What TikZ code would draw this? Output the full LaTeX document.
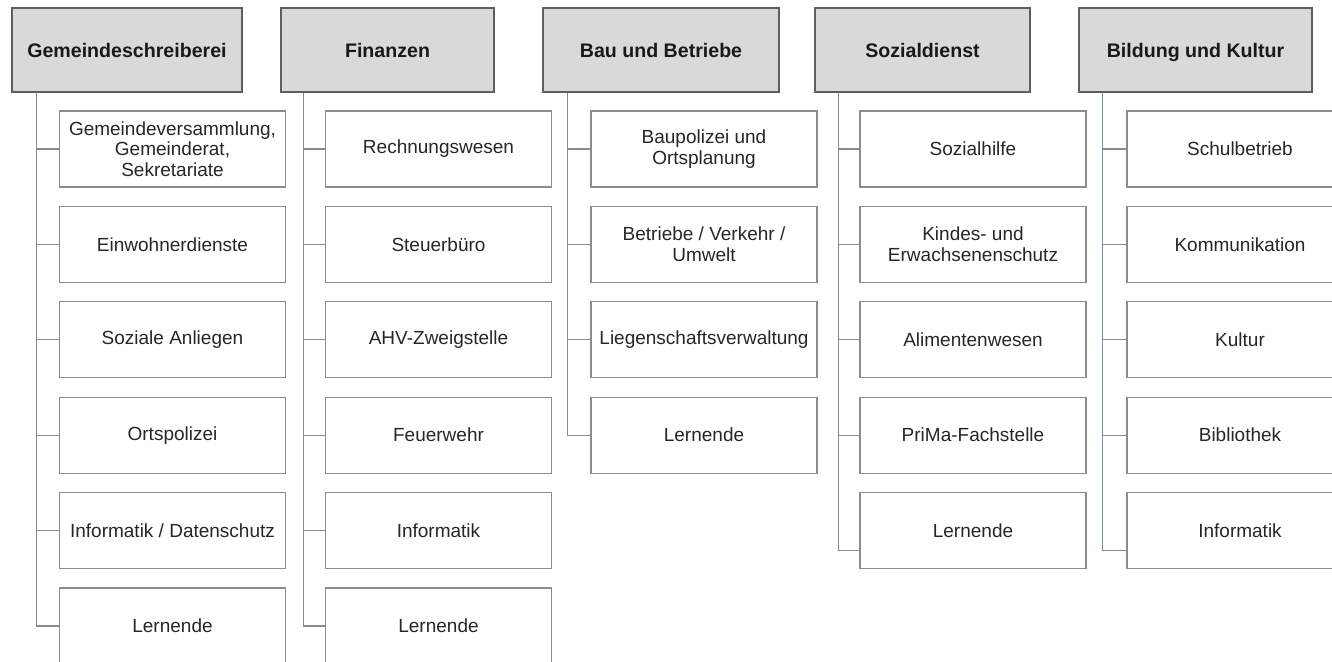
\documentclass[tikz,border=0pt]{standalone}
\usepackage{fontspec}
\setmainfont{Liberation Sans}
\definecolor{headfill}{RGB}{217,217,217}
\definecolor{headline}{RGB}{95,95,95}
\definecolor{boxline}{RGB}{140,140,140}
\definecolor{linkline}{RGB}{130,140,150}
\definecolor{txt}{RGB}{38,38,38}

\begin{document}
\begin{tikzpicture}[x=0.5pt, y=-0.5pt,
    head/.style={draw=headline, fill=headfill, line width=0.9pt, minimum height=42pt, inner sep=0pt, text height=8pt, text depth=0pt, text=black!90, font=\fontsize{9.8}{11}\selectfont\bfseries},
    unit/.style={draw=boxline, line width=0.6pt, minimum width=113pt, minimum height=38pt, inner sep=0pt, align=center, text=txt, font=\fontsize{9.5}{10.3}\selectfont},
    link/.style={draw=linkline, line width=0.6pt}]
    \useasboundingbox (0,0) rectangle (1332,662);

    % department heads
    \node[head, minimum width=115pt] (h1) at (127,50) {Gemeindeschreiberei};
    \node[head, minimum width=106.5pt] (h2) at (387.5,50) {Finanzen};
    \node[head, minimum width=118pt] (h3) at (661,50) {Bau und Betriebe};
    \node[head, minimum width=107.5pt] (h4) at (922.5,50) {Sozialdienst};
    \node[head, minimum width=116.5pt] (h5) at (1195.5,50) {Bildung und Kultur};

    % units per department
    \foreach \t [count=\i] in {{Gemeindeversammlung,\\Gemeinderat,\\Sekretariate}, Einwohnerdienste, Soziale Anliegen, Ortspolizei, Informatik / Datenschutz, Lernende}
        \node[unit] (c1-\i) at (172.5,{149+95.4*(\i-1)}) {\t};
    \foreach \t [count=\i] in {Rechnungswesen, Steuerbüro, AHV-Zweigstelle, Feuerwehr, Informatik, Lernende}
        \node[unit] (c2-\i) at (438.5,{149+95.4*(\i-1)}) {\t};
    \foreach \t [count=\i] in {Baupolizei und\\Ortsplanung, Betriebe / Verkehr /\\Umwelt, Liegenschaftsverwaltung, Lernende}
        \node[unit] (c3-\i) at (704,{149+95.4*(\i-1)}) {\t};
    \foreach \t [count=\i] in {Sozialhilfe, Kindes- und\\Erwachsenenschutz, Alimentenwesen, PriMa-Fachstelle, Lernende}
        \node[unit] (c4-\i) at (973,{149+95.4*(\i-1)}) {\t};
    \foreach \t [count=\i] in {Schulbetrieb, Kommunikation, Kultur, Bibliothek, Informatik}
        \node[unit] (c5-\i) at (1240,{149+95.4*(\i-1)}) {\t};

    % spines
    \coordinate (v1) at ([xshift=12.5pt]h1.south west); \coordinate (e1) at (c1-6.west);
    \coordinate (v2) at ([xshift=11.5pt]h2.south west); \coordinate (e2) at (c2-6.west);
    \coordinate (v3) at ([xshift=12.5pt]h3.south west); \coordinate (e3) at (c3-4.west);
    \coordinate (v4) at ([xshift=12pt]h4.south west); \coordinate (e4) at ([yshift=-10pt]c4-5.west);
    \coordinate (v5) at ([xshift=12pt]h5.south west); \coordinate (e5) at ([yshift=-10pt]c5-5.west);
    \foreach \k in {1,...,5} \draw[link] (v\k) |- (e\k);

    % branches
    \foreach \i in {1,...,5} \draw[link] (v1 |- c1-\i.west) -- (c1-\i.west);
    \foreach \i in {1,...,5} \draw[link] (v2 |- c2-\i.west) -- (c2-\i.west);
    \foreach \i in {1,...,3} \draw[link] (v3 |- c3-\i.west) -- (c3-\i.west);
    \foreach \i in {1,...,4} \draw[link] (v4 |- c4-\i.west) -- (c4-\i.west);
    \foreach \i in {1,...,4} \draw[link] (v5 |- c5-\i.west) -- (c5-\i.west);
\end{tikzpicture}
\end{document}
